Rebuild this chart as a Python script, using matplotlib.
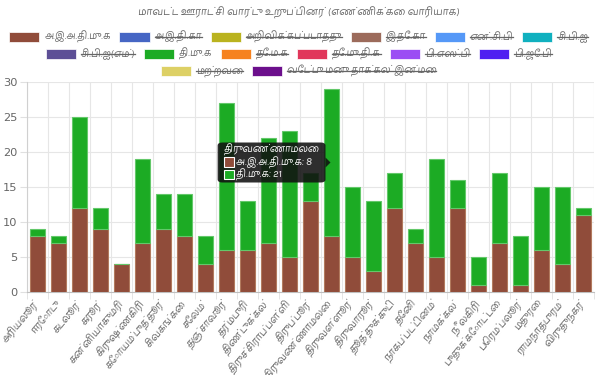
import matplotlib
matplotlib.use("Agg")
import matplotlib.pyplot as plt
from matplotlib import font_manager
from matplotlib.ft2font import FT2Font
from matplotlib.patches import FancyBboxPatch, Rectangle, Polygon
from matplotlib.lines import Line2D
import numpy as np

# ---------------- data ----------------
title_text = "மாவட்ட ஊராட்சி வார்டு உறுப்பினர் (எண்ணிக்கை வாரியாக)"

districts = ["அரியலூர்", "ஈரோடு", "கடலூர்", "கரூர்", "கன்னியாகுமரி", "கிருஷ்ணகிரி",
             "கோயம்புத்தூர்", "சிவகங்கை", "சேலம்", "தஞ்சாவூர்", "தர்மபுரி", "திண்டுக்கல்",
             "திருச்சிராப்பள்ளி", "திருப்பூர்", "திருவண்ணாமலை", "திருவள்ளூர்", "திருவாரூர்",
             "தூத்துக்குடி", "தேனி", "நாகப்பட்டினம்", "நாமக்கல்", "நீலகிரி", "புதுக்கோட்டை",
             "பெரம்பலூர்", "மதுரை", "ராமநாதபுரம்", "விருதுநகர்"]

admk = [8, 7, 12, 9, 4, 7, 9, 8, 4, 6, 6, 7, 5, 13, 8, 5, 3, 12, 7, 5, 12, 1, 7, 1, 6, 4, 11]
dmk = [1, 1, 13, 3, 0, 12, 5, 6, 4, 21, 7, 15, 18, 4, 21, 10, 10, 5, 2, 14, 4, 4, 10, 7, 9, 11, 1]

party_labels = ["அ.இ.அ.தி.மு.க", "அ.இ.தி.கா", "அறிவிக்கப்படாதது", "இ.தே.கா", "என்.சி.பி",
                "சி.பி.ஐ", "சி.பி.ஐ(எம்)", "தி.மு.க", "தே.ம.க", "தே.மு.தி.க", "பி.எஸ்.பி",
                "பி.ஜே.பி", "மற்றவை", "வேட்பு மனு தாக்கல் இன்மை"]
party_colors = ["#904c3a", "#4666c4", "#bab31f", "#9c6b5b", "#5598f7", "#10b0bf",
                "#5d4f96", "#1cab24", "#f6821f", "#e1375b", "#9b4df4", "#4f1ff1",
                "#ddd065", "#6c0f8c"]
party_hidden = [False, True, True, True, True, True, True, False, True, True, True,
                True, True, True]
legend_rows = [6, 6, 2]

y_ticks = [0, 5, 10, 15, 20, 25, 30]
tooltip_district = "திருவண்ணாமலை"

# ---------------- fonts ----------------
tamil_font = None
cands = sorted(font_manager.fontManager.ttflist,
               key=lambda f: (0 if "Tamil" in f.name else 1, 0 if f.weight in (400, "normal") else 1))
for f in cands:
    try:
        if 0x0B85 in FT2Font(f.fname).get_charmap():
            tamil_font = f.name
            break
    except Exception:
        pass
families = ([tamil_font] if tamil_font else []) + ["DejaVu Sans"]
plt.rcParams["font.family"] = families

GREY = "#666666"
FS = 8.0

W, H = 597, 375
fig = plt.figure(figsize=(W / 100, H / 100), dpi=100)
ax = fig.add_axes([27 / W, (H - 292) / H, (594 - 27) / W, (292 - 82) / H])

x = np.arange(len(districts))
bw = 0.72
admk_a = np.array(admk)
dmk_a = np.array(dmk)
ax.bar(x, admk_a, bw, color=party_colors[0], edgecolor="#b27a5e", linewidth=0.8, zorder=3)
ax.bar(x, dmk_a, bw, bottom=admk_a, color=party_colors[7], edgecolor="#63c86a",
       linewidth=0.8, zorder=3)

ax.set_xlim(-0.5, len(districts) - 0.5)
ax.set_ylim(0, 30)
ax.set_yticks(y_ticks)
ax.set_yticklabels([str(v) for v in y_ticks], fontsize=8.2, color=GREY,
                   family=["DejaVu Sans"])
ax.tick_params(axis="y", length=5, color="#e0e0e0", pad=2)
ax.set_xticks(x)
ax.set_xticklabels(districts, rotation=50, ha="right", rotation_mode="anchor",
                   fontsize=7.8, color=GREY, va="center")
ax.tick_params(axis="x", which="major", length=0, pad=7)
ax.set_xticks(np.arange(-0.5, len(districts)), minor=True)
ax.tick_params(axis="x", which="minor", length=5, color="#e0e0e0")
ax.grid(axis="y", which="major", color="#e6e6e6", linewidth=0.8, zorder=0)
ax.grid(axis="x", which="minor", color="#e6e6e6", linewidth=0.8, zorder=0)
for s in ("top", "right"):
    ax.spines[s].set_visible(False)
ax.spines["left"].set_color("#d0d0d0")
ax.spines["bottom"].set_color("#bfbfbf")
ax.set_axisbelow(True)

# title
fig.text(0.5, 1 - 13 / H, title_text, ha="center", va="center", fontsize=FS, color=GREY)

# ---------------- legend (Chart.js style) ----------------
renderer = fig.canvas.get_renderer()
row_y = [37.3, 54.0, 70.7]
box_w, box_h, gap, item_pad = 30, 10, 5, 9
target_row1 = 579.0

# fit legend font so that the first row spans the same width as the reference
probe = [fig.text(0, 0, party_labels[i], fontsize=FS) for i in range(legend_rows[0])]
pw = [p.get_window_extent(renderer).width for p in probe]
for p in probe:
    p.remove()
fixed = legend_rows[0] * (box_w + gap) + item_pad * (legend_rows[0] - 1)
LFS = FS * min(1.0, (target_row1 - fixed) / sum(pw))

idx = 0
for r, n in enumerate(legend_rows):
    items = list(range(idx, idx + n))
    idx += n
    texts = []
    widths = []
    for i in items:
        t = fig.text(0, 0, party_labels[i], fontsize=LFS, color=GREY, ha="left", va="center")
        texts.append(t)
        widths.append(t.get_window_extent(renderer).width)
    total = sum(box_w + gap + w for w in widths) + item_pad * (n - 1)
    cx = W / 2 - total / 2
    yc = H - row_y[r]
    for t, w, i in zip(texts, widths, items):
        fig.patches.append(Rectangle((cx / W, (yc - box_h / 2) / H), box_w / W, box_h / H,
                                     transform=fig.transFigure, facecolor=party_colors[i],
                                     edgecolor="white", linewidth=0.5, alpha=1.0))
        tx = cx + box_w + gap
        t.set_position((tx / W, yc / H))
        if party_hidden[i]:
            fig.lines.append(Line2D([tx / W, (tx + w) / W], [yc / H, yc / H],
                                    transform=fig.transFigure, color=GREY, linewidth=0.9))
        cx = tx + w + item_pad

# ---------------- tooltip ----------------
TFS = 7.6
ti = districts.index(tooltip_district)
avg_y = (admk[ti] + (admk[ti] + dmk[ti])) / 2
px, py = ax.transData.transform((ti, avg_y))
tip_x = px - 1
lines = [(party_labels[0] + ": " + str(admk[ti]), party_colors[0]),
         (party_labels[7] + ": " + str(dmk[ti]), party_colors[7])]
tt = fig.text(0, 0, tooltip_district, fontsize=TFS, color="white", fontweight="bold",
              ha="left", va="center", zorder=11)
lt = [fig.text(0, 0, s, fontsize=TFS, color="white", ha="left", va="center", zorder=11)
      for s, c in lines]
tw = max([tt.get_window_extent(renderer).width] +
         [12 + t.get_window_extent(renderer).width for t in lt])
bx_w = tw + 12
bx_h = 40
bx_right = tip_x - 5
bx_left = bx_right - bx_w
bx_top = py + bx_h / 2
bx_bot = py - bx_h / 2
fig.patches.append(FancyBboxPatch((bx_left / W, bx_bot / H), bx_w / W, bx_h / H,
                                  boxstyle="round,pad=0,rounding_size=0.008",
                                  transform=fig.transFigure, facecolor="#111111",
                                  edgecolor="none", alpha=0.88, zorder=10))
fig.patches.append(Polygon([[bx_right / W, (py + 5) / H], [(bx_right + 5) / W, py / H],
                            [bx_right / W, (py - 5) / H]], closed=True,
                           transform=fig.transFigure, facecolor="#111111",
                           edgecolor="none", alpha=0.88, zorder=10))
tt.set_position(((bx_left + 6) / W, (bx_top - 7) / H))
for k, (t, (s, c)) in enumerate(zip(lt, lines)):
    yy = bx_top - 20 - 12 * k
    fig.patches.append(Rectangle(((bx_left + 6) / W, (yy - 5) / H), 10 / W, 10 / H,
                                 transform=fig.transFigure, facecolor=c,
                                 edgecolor="white", linewidth=0.8, zorder=11))
    t.set_position(((bx_left + 18) / W, yy / H))

fig.savefig("out.png", dpi=100)
